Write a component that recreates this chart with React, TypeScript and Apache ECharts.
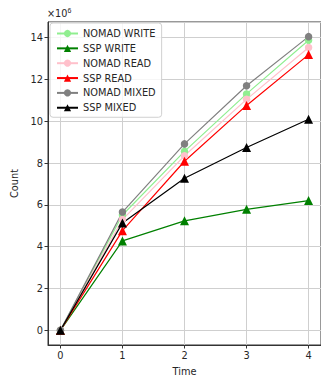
import React, { useEffect, useRef } from "react";
import * as echarts from "echarts";

// Values in units of 1e6
const times = [0, 1, 2, 3, 4];
const nomadWrite = [0, 5.52, 8.56, 11.31, 13.88];
const sspWrite = [0, 4.28, 5.24, 5.79, 6.21];
const nomadRead = [0, 5.3, 8.35, 11.05, 13.53];
const sspRead = [0, 4.77, 8.09, 10.76, 13.19];
const nomadMixed = [0, 5.66, 8.92, 11.7, 14.05];
const sspMixed = [0, 5.14, 7.28, 8.75, 10.1];

const seriesDefs = [
  { name: "NOMAD WRITE", data: nomadWrite, color: "#90ee90", symbol: "circle" },
  { name: "SSP WRITE", data: sspWrite, color: "#008000", symbol: "triangle" },
  { name: "NOMAD READ", data: nomadRead, color: "#ffc0cb", symbol: "circle" },
  { name: "SSP READ", data: sspRead, color: "#ff0000", symbol: "triangle" },
  { name: "NOMAD MIXED", data: nomadMixed, color: "#808080", symbol: "circle" },
  { name: "SSP MIXED", data: sspMixed, color: "#000000", symbol: "triangle" },
];

const FONT = "DejaVu Sans";

export default function App() {
  const ref = useRef<HTMLDivElement>(null);
  useEffect(() => {
    if (!ref.current) return;
    const chart = echarts.init(ref.current, undefined, { renderer: "svg" });
    chart.setOption({
      animation: false,
      backgroundColor: "#ffffff",
      textStyle: { fontFamily: FONT },
      grid: {
        left: 48,
        top: 22,
        right: -4,
        bottom: 31,
        show: true,
        borderColor: "#333",
        borderWidth: 1,
      },
      graphic: [
        {
          type: "text",
          left: 47,
          top: 7,
          style: {
            text: "×10{s|6}",
            fontFamily: FONT,
            fontSize: 9.7,
            fill: "#262626",
            rich: { s: { fontSize: 7, verticalAlign: "top", fill: "#262626", padding: [0, 0, 5, 0] } },
          },
        },
      ],
      legend: {
        orient: "vertical",
        left: 50,
        top: 23,
        data: seriesDefs.map((s) => s.name),
        itemWidth: 21,
        itemHeight: 9,
        itemGap: 3.85,
        padding: [5, 6, 4, 6],
        backgroundColor: "rgba(255,255,255,0.8)",
        borderColor: "#d0d0d0",
        borderWidth: 1,
        borderRadius: 3,
        textStyle: { fontFamily: FONT, fontSize: 9.8, color: "#262626", lineHeight: 11 },
      },
      xAxis: {
        type: "value",
        min: -0.2,
        max: 4.2,
        name: "Time",
        nameLocation: "middle",
        nameGap: 21,
        nameTextStyle: { fontFamily: FONT, fontSize: 9.8, color: "#262626" },
        axisLine: { show: true, onZero: false, lineStyle: { color: "#333", width: 1 } },
        axisTick: { show: true, length: 3.5, lineStyle: { color: "#333" } },
        axisLabel: {
          showMinLabel: false,
          showMaxLabel: false,
          fontFamily: FONT,
          fontSize: 9.8,
          color: "#262626",
          margin: 5,
        },
        splitLine: { show: true, lineStyle: { color: "#cfcfcf", width: 1 } },
      },
      yAxis: {
        type: "value",
        min: -0.7,
        max: 14.75,
        splitNumber: 8,
        name: "Count",
        nameLocation: "middle",
        nameGap: 26,
        nameTextStyle: { fontFamily: FONT, fontSize: 9.8, color: "#262626" },
        axisLine: { show: true, onZero: false, lineStyle: { color: "#333", width: 1 } },
        axisTick: { show: true, length: 3.5, lineStyle: { color: "#333" } },
        axisLabel: {
          showMinLabel: false,
          showMaxLabel: false,
          fontFamily: FONT,
          fontSize: 9.8,
          color: "#262626",
          margin: 5,
        },
        splitLine: { show: true, lineStyle: { color: "#cfcfcf", width: 1 } },
      },
      series: seriesDefs.map((s) => ({
        name: s.name,
        type: "line",
        data: times.map((t, i) => [t, s.data[i]]),
        symbol: s.symbol,
        symbolSize: s.symbol === "circle" ? 7.5 : 9,
        color: s.color,
        lineStyle: { color: s.color, width: 1.2 },
        itemStyle: { color: s.color },
        showAllSymbol: true,
      })),
    });
    return () => chart.dispose();
  }, []);
  return <div ref={ref} style={{ width: 321, height: 381, position: "absolute", left: 0, top: 0 }} />;
}
